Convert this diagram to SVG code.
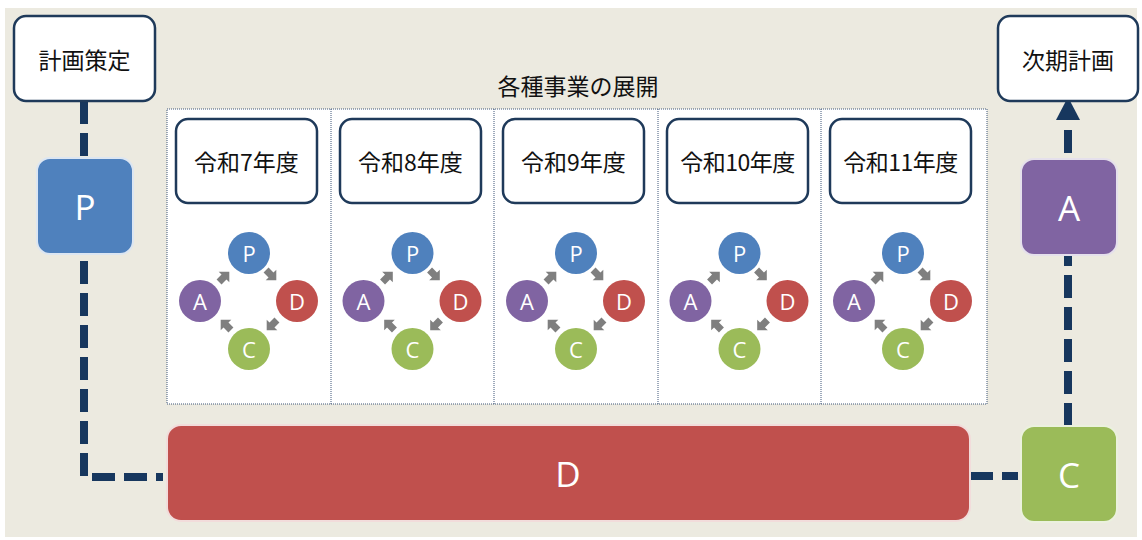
<svg xmlns="http://www.w3.org/2000/svg" width="1142" height="540" viewBox="0 0 1142 540">
<style>
.bg{fill:#ECEAE0}
.lbl{fill:#fff;stroke:#1F3A5A;stroke-width:2.5}
.jp{font-family:"Noto Sans CJK JP","Liberation Sans",sans-serif;fill:#111;text-anchor:middle;dominant-baseline:central}
.big{font-family:"Open Sans","Liberation Sans",sans-serif;fill:#fff;font-size:35px;text-anchor:middle;dominant-baseline:central}
.sm{font-family:"Open Sans","Liberation Sans",sans-serif;fill:#fff;font-size:22px;text-anchor:middle;dominant-baseline:central}
.dash{fill:none;stroke:#17375E;stroke-width:8;stroke-dasharray:23 9}
.dot{fill:none;stroke:#3F5679;stroke-width:1;stroke-dasharray:1 1}
.sa{fill:#7F7F7F}
</style>
<defs>
<path id="sa" d="M-7,-3.5 L0,-3.5 L0,-7.5 L7.5,0 L0,7.5 L0,3.5 L-7,3.5 Z"/>
<g id="cyc">
<circle cx="0" cy="-48" r="21" fill="#4F81BD"/>
<circle cx="48" cy="0" r="21" fill="#C0504D"/>
<circle cx="0" cy="48" r="21" fill="#9BBB59"/>
<circle cx="-49" cy="0" r="21" fill="#8064A2"/>
<text class="sm" x="0" y="-48">P</text>
<text class="sm" x="48" y="0">D</text>
<text class="sm" x="0" y="48">C</text>
<text class="sm" x="-49" y="0">A</text>
<use href="#sa" class="sa" transform="translate(22,-26) rotate(45)"/>
<use href="#sa" class="sa" transform="translate(23,24) rotate(135)"/>
<use href="#sa" class="sa" transform="translate(-23,24) rotate(225)"/>
<use href="#sa" class="sa" transform="translate(-25,-24) rotate(315)"/>
</g>
</defs>
<rect class="bg" x="5" y="8" width="1132" height="529"/>

<g id="connectors">
<path class="dash" d="M84,101 L84,477 L163,477"/>
<path class="dash" d="M970,476 L1018,476"/>
<path class="dash" d="M1068,426 L1068,256"/>
<path fill="none" stroke="#17375E" stroke-width="8" d="M1068,153 L1068,130"/>
<polygon fill="#17375E" points="1068,97 1080,120 1056,120"/>
</g>

<g id="panel">
<rect x="167" y="109" width="820" height="295" fill="#fff"/>
<rect class="dot" x="167" y="109" width="820" height="295"/>
<line class="dot" x1="331" y1="109" x2="331" y2="404"/>
<line class="dot" x1="494" y1="109" x2="494" y2="404"/>
<line class="dot" x1="658" y1="109" x2="658" y2="404"/>
<line class="dot" x1="821" y1="109" x2="821" y2="404"/>
<text class="jp" x="578" y="85" font-size="23">各種事業の展開</text>
</g>

<g id="plan">
<rect class="lbl" x="14" y="16" width="141" height="85" rx="12"/>
<text class="jp" x="84.5" y="59" font-size="23">計画策定</text>
</g>
<g id="next">
<rect class="lbl" x="998" y="16" width="140" height="85" rx="12"/>
<text class="jp" x="1068" y="59" font-size="23">次期計画</text>
</g>

<g id="y7">
<rect class="lbl" x="176" y="119" width="141" height="84" rx="12"/>
<text class="jp" x="246.5" y="161" font-size="23">令和7年度</text>
<use href="#cyc" transform="translate(249,301)"/>
</g>
<g id="y8">
<rect class="lbl" x="340" y="119" width="141" height="84" rx="12"/>
<text class="jp" x="410.5" y="161" font-size="23">令和8年度</text>
<use href="#cyc" transform="translate(412.5,301)"/>
</g>
<g id="y9">
<rect class="lbl" x="503" y="119" width="141" height="84" rx="12"/>
<text class="jp" x="573.5" y="161" font-size="23">令和9年度</text>
<use href="#cyc" transform="translate(576,301)"/>
</g>
<g id="y10">
<rect class="lbl" x="667" y="119" width="141" height="84" rx="12"/>
<text class="jp" x="737.5" y="161" font-size="23" letter-spacing="-0.5">令和10年度</text>
<use href="#cyc" transform="translate(739.5,301)"/>
</g>
<g id="y11">
<rect class="lbl" x="830" y="119" width="141" height="84" rx="12"/>
<text class="jp" x="900.5" y="161" font-size="23" letter-spacing="-0.5">令和11年度</text>
<use href="#cyc" transform="translate(903,301)"/>
</g>

<g id="P">
<rect x="37" y="158" width="96" height="96" rx="13" fill="#4F81BD" stroke="#DCE6F2" stroke-width="2"/>
<text class="big" x="85" y="206">P</text>
</g>
<g id="D">
<rect x="167" y="425" width="803" height="96" rx="14" fill="#C0504D" stroke="#F2DCDB" stroke-width="2"/>
<text class="big" x="568" y="473">D</text>
</g>
<g id="C">
<rect x="1021" y="426" width="96" height="96" rx="13" fill="#9BBB59" stroke="#EBF1DE" stroke-width="2"/>
<text class="big" x="1069" y="474">C</text>
</g>
<g id="A">
<rect x="1021" y="159" width="96" height="96" rx="13" fill="#8064A2" stroke="#E5E0EC" stroke-width="2"/>
<text class="big" x="1069" y="207">A</text>
</g>
</svg>
